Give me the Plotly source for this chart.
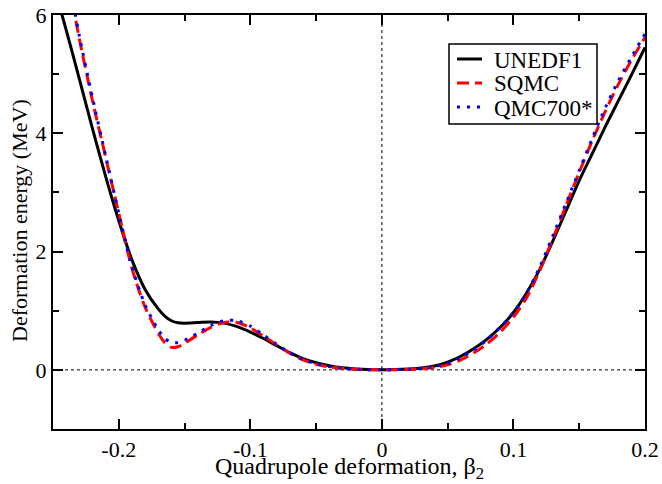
import plotly.graph_objects as go

x_unedf1 = [-0.25, -0.245, -0.24, -0.23, -0.22, -0.21, -0.2, -0.19, -0.18, -0.17, -0.165, -0.16, -0.155, -0.15, -0.14,
            -0.13, -0.12, -0.11, -0.10, -0.09, -0.08, -0.07, -0.06, -0.05, -0.04, -0.03, -0.02, -0.01, 0.0,
            0.01, 0.02, 0.03, 0.04, 0.05, 0.06, 0.07, 0.08, 0.09, 0.10, 0.11, 0.12, 0.13, 0.14, 0.15, 0.16,
            0.17, 0.18, 0.19, 0.20]
y_unedf1 = [6.6, 6.15, 5.75, 4.92, 4.08, 3.27, 2.52, 1.86, 1.36, 1.03, 0.91, 0.83, 0.795, 0.79, 0.8,
            0.81, 0.79, 0.73, 0.64, 0.53, 0.41, 0.29, 0.19, 0.12, 0.07, 0.035, 0.015, 0.004, 0.0,
            0.004, 0.014, 0.03, 0.065, 0.13, 0.23, 0.36, 0.52, 0.72, 0.97, 1.3, 1.7, 2.18, 2.69, 3.2, 3.66,
            4.12, 4.56, 5.0, 5.45]

x_other = [-0.24, -0.235, -0.23, -0.22, -0.21, -0.2, -0.19, -0.18, -0.17, -0.165, -0.16, -0.155, -0.15, -0.14,
           -0.13, -0.12, -0.11, -0.10, -0.09, -0.08, -0.07, -0.06, -0.05, -0.04, -0.03, -0.02, -0.01, 0.0,
           0.01, 0.02, 0.03, 0.04, 0.05, 0.06, 0.07, 0.08, 0.09, 0.10, 0.11, 0.12, 0.13, 0.14, 0.15, 0.16,
           0.17, 0.18, 0.19, 0.20]
y_sqmc = [6.8, 6.2, 5.6, 4.55, 3.6, 2.65, 1.72, 1.06, 0.62, 0.46, 0.38, 0.39, 0.45, 0.59,
          0.72, 0.8, 0.8, 0.71, 0.57, 0.42, 0.28, 0.17, 0.095, 0.05, 0.025, 0.01, 0.003, 0.0,
          0.002, 0.007, 0.018, 0.04, 0.085, 0.17, 0.29, 0.44, 0.64, 0.89, 1.22, 1.68, 2.22, 2.78, 3.34, 3.88,
          4.38, 4.84, 5.25, 5.62]
y_qmc700 = [6.85, 6.25, 5.65, 4.6, 3.62, 2.65, 1.74, 1.1, 0.68, 0.53, 0.465, 0.46, 0.5, 0.62,
            0.75, 0.83, 0.83, 0.74, 0.59, 0.43, 0.29, 0.175, 0.1, 0.055, 0.025, 0.01, 0.003, 0.0,
            0.003, 0.01, 0.026, 0.055, 0.11, 0.21, 0.34, 0.51, 0.72, 0.97, 1.3, 1.74, 2.27, 2.82, 3.37, 3.92,
            4.44, 4.9, 5.3, 5.68]

series_names = ["UNEDF1", "SQMC", "QMC700*"]
series_colors = ["black", "#ff0000", "#0000ff"]
series_dashes = ["solid", "12px,6px", "3px,7px"]

font_family = "Liberation Serif"

fig = go.Figure()
series_x = [x_unedf1, x_other, x_other]
series_y = [y_unedf1, y_sqmc, y_qmc700]
for xs, ys, nm, col, ds in zip(series_x, series_y, series_names, series_colors, series_dashes):
    fig.add_trace(go.Scatter(x=xs, y=ys, mode="lines", name=nm, showlegend=False,
                             line=dict(color=col, width=3, dash=ds, shape="spline", smoothing=0.8)))

fig.add_shape(type="line", xref="x", yref="y", x0=-0.25, x1=0.2, y0=0, y1=0,
              line=dict(color="black", width=1, dash="dot"), layer="below")
fig.add_shape(type="line", xref="x", yref="y", x0=0, x1=0, y0=-1, y1=6,
              line=dict(color="black", width=1, dash="dot"), layer="below")

# plot area in pixels (for placing the hand-drawn legend and titles)
L, R, T, B = 53, 645, 15, 429
def px(xp):
    return (xp - L) / (R - L)
def py(yp):
    return (B - yp) / (B - T)

fig.add_shape(type="rect", xref="paper", yref="paper", x0=px(449), x1=px(597), y0=py(124), y1=py(44),
              line=dict(color="black", width=1.5), fillcolor="white", layer="above")
legend_rows = [59, 83, 107]
for row, nm, col, ds in zip(legend_rows, series_names, series_colors, series_dashes):
    fig.add_shape(type="line", xref="paper", yref="paper", x0=px(457), x1=px(482), y0=py(row), y1=py(row),
                  line=dict(color=col, width=3, dash=ds), layer="above")
    fig.add_annotation(xref="paper", yref="paper", x=px(492), y=py(row + 1), text=nm, showarrow=False,
                       xanchor="left", yanchor="middle",
                       font=dict(family=font_family, size=23, color="black"))

fig.add_annotation(xref="paper", yref="paper", x=0.5, y=py(468), showarrow=False,
                   text="Quadrupole deformation, β<sub>2</sub>", xanchor="center", yanchor="middle",
                   font=dict(family=font_family, size=24, color="black"))
fig.add_annotation(xref="paper", yref="paper", x=px(19), y=py(221), showarrow=False, textangle=-90,
                   text="Deformation energy (MeV)", xanchor="center", yanchor="middle",
                   font=dict(family=font_family, size=22, color="black"))

axis_common = dict(showgrid=False, zeroline=False, showline=True, linecolor="black", linewidth=2,
                   ticks="inside", ticklen=10, tickwidth=1.5, tickcolor="black", mirror="allticks",
                   automargin=False,
                   tickfont=dict(family=font_family, size=22, color="black"))

fig.update_xaxes(range=[-0.25, 0.2], tickvals=[-0.2, -0.1, 0, 0.1, 0.2],
                 ticktext=["-0.2", "-0.1", "0", "0.1", "0.2"],
                 minor=dict(tickvals=[-0.15, -0.05, 0.05, 0.15], ticks="inside", ticklen=6,
                            tickwidth=1.5, tickcolor="black"),
                 **axis_common)
fig.update_yaxes(range=[-1, 6], tickvals=[0, 2, 4, 6],
                 minor=dict(tickvals=[-1, 1, 3, 5], ticks="inside", ticklen=6,
                            tickwidth=1.5, tickcolor="black"),
                 **axis_common)

fig.update_layout(
    width=662, height=484,
    margin=dict(l=L, r=662 - R, t=T, b=484 - B, autoexpand=False),
    paper_bgcolor="white", plot_bgcolor="white",
    showlegend=False,
)

fig.write_html("out.html", config={"displayModeBar": False},
               post_script="document.body.style.margin='0';document.body.style.overflow='hidden';")
